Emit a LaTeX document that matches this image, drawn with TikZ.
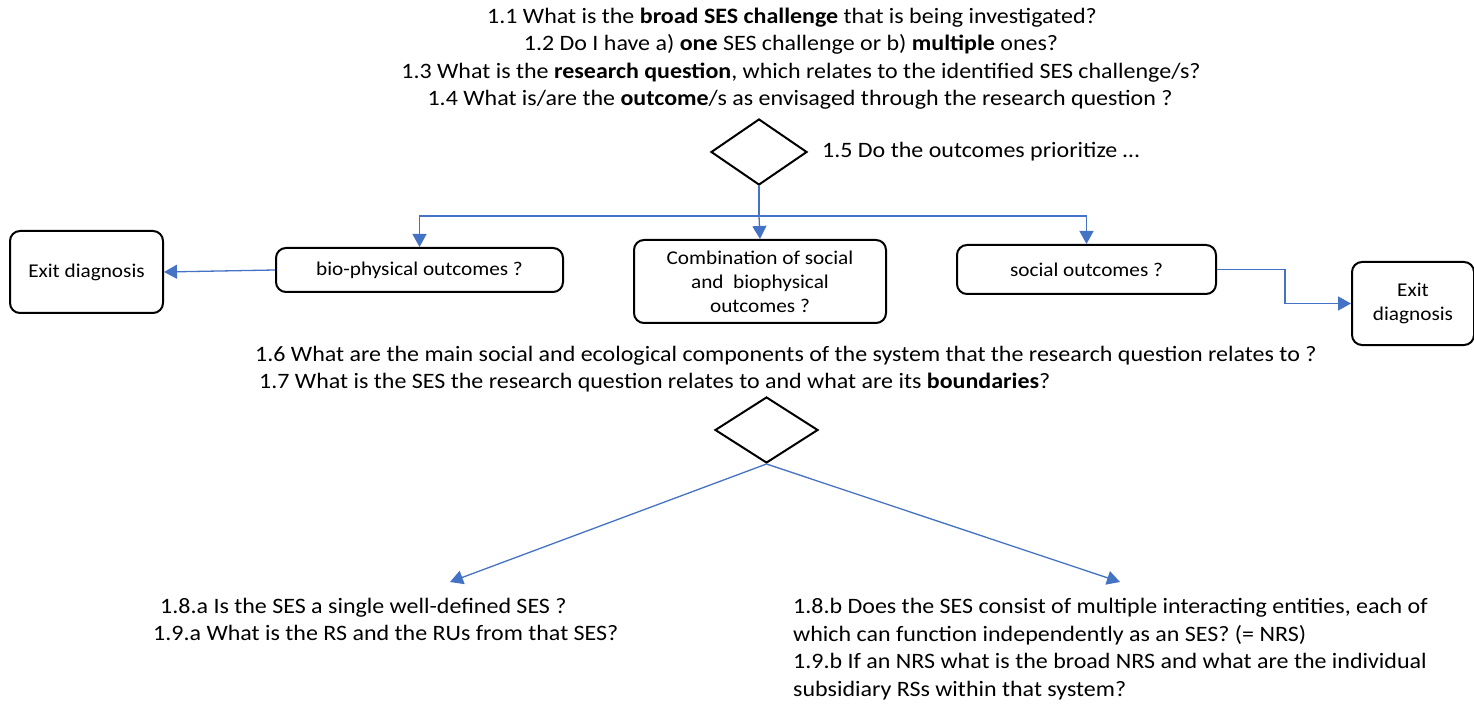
\documentclass[tikz,border=0pt]{standalone}
\usepackage{fontspec}
\setmainfont{Carlito}[FakeStretch=1.09]
\usetikzlibrary{arrows.meta,shapes.geometric}
\definecolor{flowblue}{HTML}{4472C4}
\begin{document}
\begin{tikzpicture}[x=1pt,y=-1pt,
  txt/.style={inner sep=0pt,font=\fontsize{22}{28}\selectfont},
  box/.style={draw,line width=2pt,rounded corners=10pt,align=center,inner sep=0pt,
    font=\fontsize{19.5}{24}\selectfont},
  decision/.style={diamond,draw,line width=2pt,inner sep=0pt},
  flow/.style={draw=flowblue,line width=1.3pt,-{Triangle[length=13pt,width=14pt]}},
  flowline/.style={draw=flowblue,line width=1.3pt}]
\useasboundingbox (0,0) rectangle (1474,708);

% opening questions
\node[txt,anchor=base] (q11) at (792,24) {1.1 What is the \textbf{broad SES challenge} that is being investigated?};
\node[txt,anchor=base] (q12) at (791,51) {1.2 Do I have a) \textbf{one} SES challenge or b) \textbf{multiple} ones?};
\node[txt,anchor=base] (q13) at (801,79) {1.3 What is the \textbf{research question}, which relates to the identified SES challenge/s?};
\node[txt,anchor=base] (q14) at (800,106) {1.4 What is/are the \textbf{outcome}/s as envisaged through the research question ?};

% first decision
\node[decision,minimum width=96pt,minimum height=66pt] (d1) at (759,152) {};
\node[txt,anchor=west] (q15) at (822,152) {1.5 Do the outcomes prioritize \dots};

% outcome boxes
\node[box,minimum width=153pt,minimum height=82pt] (exitL) at (86.5,272) {Exit diagnosis};
\node[box,minimum width=287pt,minimum height=44pt] (bio) at (419.5,270) {bio-physical outcomes ?};
\node[box,minimum width=252pt,minimum height=83pt] (comb) at (760,281.5) {Combination of social\\and\ \ biophysical\\outcomes ?};
\node[box,minimum width=259pt,minimum height=49pt] (soc) at (1086.5,269.5) {social outcomes ?};
\node[box,minimum width=122pt,minimum height=83pt] (exitR) at (1413,303.5) {Exit\\diagnosis};

% branching from the first decision
\coordinate (split) at (759,216);
\draw[flowline] (d1.south) -- (split);
\draw[flow] (split) -| (bio.north);
\draw[flow] (split) -- (comb.north);
\draw[flow] (split) -| (soc.north);
\draw[flow] (bio.west) -- (exitL.east);
\draw[flow] (soc.east) -- ++(68,0) |- (exitR.west);

% system questions
\node[txt,anchor=base west] (q16) at (255,361) {1.6 What are the main social and ecological components of the system that the research question relates to ?};
\node[txt,anchor=base west] (q17) at (259,388) {1.7 What is the SES the research question relates to and what are its \textbf{boundaries}?};

% second decision
\node[decision,minimum width=103pt,minimum height=66pt] (d2) at (766.5,430) {};
\coordinate (tipA) at (450,582);
\coordinate (tipB) at (1120,582);
\draw[flow] (d2.south) -- (tipA);
\draw[flow] (d2.south) -- (tipB);

% single SES branch
\node[txt,anchor=base west] (q18a) at (160,613) {1.8.a Is the SES a single well-defined SES ?};
\node[txt,anchor=base west] (q19a) at (153,640) {1.9.a What is the RS and the RUs from that SES?};

% nested SES branch
\node[txt,anchor=base west] (q18b) at (793,613) {1.8.b Does the SES consist of multiple interacting entities, each of};
\node[txt,anchor=base west] (q18c) at (793,641) {which can function independently as an SES? (= NRS)};
\node[txt,anchor=base west] (q19b) at (793,668) {1.9.b If an NRS what is the broad NRS and what are the individual};
\node[txt,anchor=base west] (q19c) at (793,696) {subsidiary RSs within that system?};
\end{tikzpicture}
\end{document}
